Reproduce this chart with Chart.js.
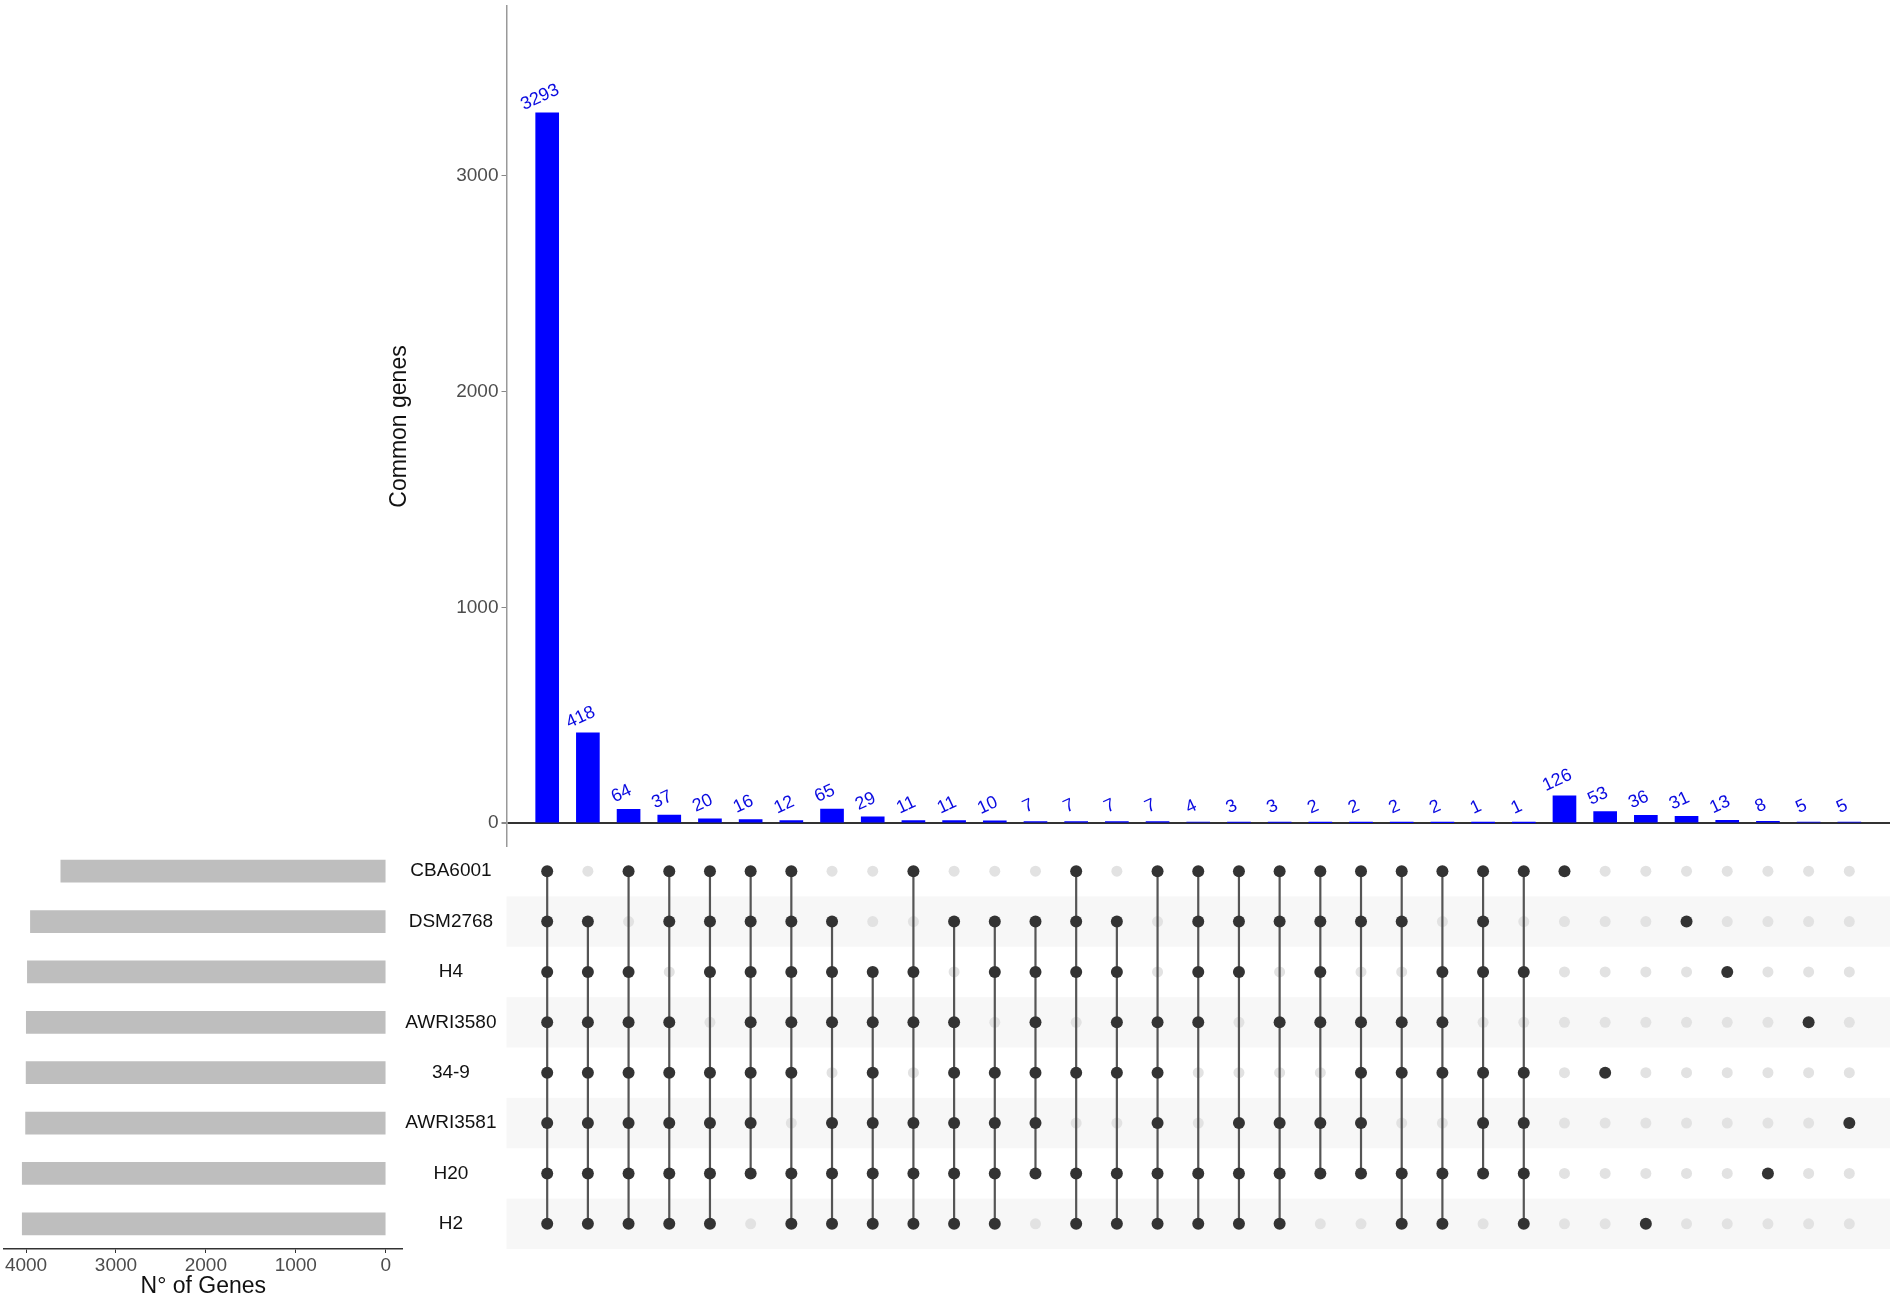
<!DOCTYPE html>
<html>
<head>
<meta charset="utf-8">
<script src="https://cdn.jsdelivr.net/npm/chart.js@4.4.1/dist/chart.umd.min.js"></script>
<style>
  body { margin: 0; background: #fff; width: 1900px; height: 1304px; position: relative; overflow: hidden; }
  canvas { position: absolute; }
</style>
</head>
<body>
<canvas id="bars" width="1518" height="847" style="left:382px;top:0"></canvas>
<canvas id="matrix" width="1510" height="403" style="left:390px;top:846px"></canvas>
<canvas id="sets" width="410" height="458" style="left:0;top:846px"></canvas>
<script>
// datos
const setNames = ['CBA6001', 'DSM2768', 'H4', 'AWRI3580', '34-9', 'AWRI3581', 'H20', 'H2'];
const setSizes = [3613, 3951, 3985, 3997, 3999, 4005, 4042, 4042];
const counts = [3293, 418, 64, 37, 20, 16, 12, 65, 29, 11, 11, 10, 7, 7, 7, 7, 4, 3, 3, 2, 2, 2, 2, 1, 1,
                126, 53, 36, 31, 13, 8, 5, 5];
const countTicks = [0, 1000, 2000, 3000];
const sizeTicks = [0, 1000, 2000, 3000, 4000];

// pertenencia de cada cepa a cada interseccion (1 = punto oscuro)
const mCBA6001  = [1,0,1,1,1,1,1,0,0,1,0, 0,0,1,0,1,1,1,1,1,1,1, 1,1,1,1,0,0,0,0,0,0,0];
const mDSM2768  = [1,1,0,1,1,1,1,1,0,0,1, 1,1,1,1,0,1,1,1,1,1,1, 0,1,0,0,0,0,1,0,0,0,0];
const mH4       = [1,1,1,0,1,1,1,1,1,1,0, 1,1,1,1,0,1,1,0,1,0,0, 1,1,1,0,0,0,0,1,0,0,0];
const mAWRI3580 = [1,1,1,1,0,1,1,1,1,1,1, 0,1,0,1,1,1,0,1,1,1,1, 1,0,0,0,0,0,0,0,0,1,0];
const m34_9     = [1,1,1,1,1,1,1,0,1,0,1, 1,1,1,1,1,0,0,0,0,1,1, 1,1,1,0,1,0,0,0,0,0,0];
const mAWRI3581 = [1,1,1,1,1,1,0,1,1,1,1, 1,1,0,0,1,0,1,1,1,1,0, 0,1,1,0,0,0,0,0,0,0,1];
const mH20      = [1,1,1,1,1,1,1,1,1,1,1, 1,1,1,1,1,1,1,1,1,1,1, 1,1,1,0,0,0,0,0,1,0,0];
const mH2       = [1,1,1,1,1,0,1,1,1,1,1, 1,0,1,1,1,1,1,1,0,0,1, 1,0,1,0,0,1,0,0,0,0,0];
const members = [mCBA6001, mDSM2768, mH4, mAWRI3580, m34_9, mAWRI3581, mH20, mH2];

const font = "'Liberation Sans', Arial, Helvetica, sans-serif";
Chart.defaults.font.family = font;
Chart.defaults.animation = false;
Chart.defaults.plugins.legend.display = false;
Chart.defaults.plugins.tooltip.enabled = false;

// etiquetas giradas encima de cada barra
const barLabels = {
  id: 'barLabels',
  afterDatasetsDraw(chart) {
    const ctx = chart.ctx;
    const meta = chart.getDatasetMeta(0);
    ctx.save();
    ctx.fillStyle = '#0a0ae0';
    ctx.font = '18px ' + font;
    ctx.textAlign = 'center';
    ctx.textBaseline = 'middle';
    meta.data.forEach((bar, i) => {
      ctx.save();
      ctx.translate(bar.x, bar.y);
      ctx.rotate(-25 * Math.PI / 180);
      ctx.fillText(String(counts[i]), 0, -17);
      ctx.restore();
    });
    ctx.restore();
  }
};

// quitar el relleno automatico que chart.js mete por las etiquetas
const noPad = s => { s.paddingTop = 0; s.paddingBottom = 0; };

// grafica de barras superior
new Chart(document.getElementById('bars'), {
  type: 'bar',
  data: {
    datasets: [{
      data: counts.map((v, i) => ({x: i + 1, y: v})),
      backgroundColor: '#0000ff',
      barThickness: 23
    }]
  },
  options: {
    responsive: false,
    layout: {autoPadding: false, padding: {top: 6, right: 10, bottom: 0, left: 0}},
    scales: {
      x: {type: 'linear', min: 0, max: 34, offset: false, display: false},
      y: {
        min: -111, max: 3788,
        afterBuildTicks: s => { s.ticks = countTicks.map(v => ({value: v})); },
        afterFit: s => { s.width = 124.5; noPad(s); },
        ticks: {color: '#4d4d4d', font: {size: 19}, padding: 3, callback: v => String(v)},
        grid: {
          drawOnChartArea: true, tickLength: 5, tickColor: '#888',
          color: c => c.tick && c.tick.value === 0 ? '#333' : 'rgba(0,0,0,0)',
          lineWidth: c => c.tick && c.tick.value === 0 ? 2 : 1
        },
        border: {display: true, color: '#999', width: 1.5},
        title: {display: true, text: 'Common genes', color: '#111', font: {size: 23}}
      }
    }
  },
  plugins: [barLabels]
});

// puntos y lineas de la matriz
const darkPts = [], lightPts = [];
members.forEach((row, r) => row.forEach((m, c) => (m ? darkPts : lightPts).push({x: c + 1, y: r})));
const links = counts.map((_, c) => {
  const rows = members.map((row, r) => row[c] ? r : -1).filter(r => r >= 0);
  return {
    data: [{x: c + 1, y: Math.min(...rows)}, {x: c + 1, y: Math.max(...rows)}],
    showLine: true, pointRadius: 0, borderColor: '#555', borderWidth: 2.2, order: 1
  };
}).filter(d => d.data[0].y !== d.data[1].y);

const stripes = {
  id: 'stripes',
  beforeDatasetsDraw(chart) {
    const {ctx, chartArea: a, scales: {y}} = chart;
    ctx.save();
    ctx.fillStyle = '#f7f7f7';
    for (let r = 1; r < setNames.length; r += 2) {
      const t = y.getPixelForValue(r - 0.5), b = y.getPixelForValue(r + 0.5);
      ctx.fillRect(a.left, Math.min(t, b), a.right - a.left, Math.abs(b - t));
    }
    ctx.restore();
  }
};

new Chart(document.getElementById('matrix'), {
  type: 'scatter',
  data: {
    datasets: [
      {data: darkPts, pointRadius: 6, pointBackgroundColor: '#333', pointBorderWidth: 0, order: 0},
      ...links,
      {data: lightPts, pointRadius: 5.5, pointBackgroundColor: '#e2e2e2', pointBorderWidth: 0, order: 2}
    ]
  },
  options: {
    responsive: false,
    layout: {autoPadding: false, padding: {top: 0, right: 10, bottom: 0, left: 0}},
    scales: {
      x: {type: 'linear', min: 0, max: 34, display: false},
      y: {
        type: 'linear', min: -0.5, max: 7.5, reverse: true,
        afterBuildTicks: s => { s.ticks = setNames.map((_, i) => ({value: i})); },
        afterFit: s => { s.width = 116.5; noPad(s); },
        ticks: {callback: v => setNames[v], color: '#111', font: {size: 19}, crossAlign: 'center', padding: 10},
        grid: {display: false, drawTicks: false},
        border: {display: false}
      }
    }
  },
  plugins: [stripes]
});

// tamano de cada cepa (barras horizontales a la izquierda)
new Chart(document.getElementById('sets'), {
  type: 'bar',
  data: {
    labels: setNames,
    datasets: [{data: setSizes, backgroundColor: '#bebebe', barThickness: 22}]
  },
  options: {
    responsive: false,
    indexAxis: 'y',
    layout: {padding: {top: 0, right: 7.3, bottom: 0, left: 4}},
    scales: {
      y: {display: false},
      x: {
        reverse: true, min: -189, max: 4245,
        afterBuildTicks: s => { s.ticks = sizeTicks.map(v => ({value: v})); },
        afterFit: s => { s.height = 55; },
        ticks: {color: '#4d4d4d', font: {size: 19, lineHeight: 1}, padding: 3, maxRotation: 0, callback: v => String(v)},
        grid: {drawOnChartArea: false, tickLength: 4, color: '#333'},
        border: {display: true, color: '#333', width: 1.5},
        title: {display: true, text: 'N° of Genes', color: '#111', font: {size: 23, lineHeight: 1}, padding: {top: 0, bottom: 6}}
      }
    }
  }
});
</script>
</body>
</html>
